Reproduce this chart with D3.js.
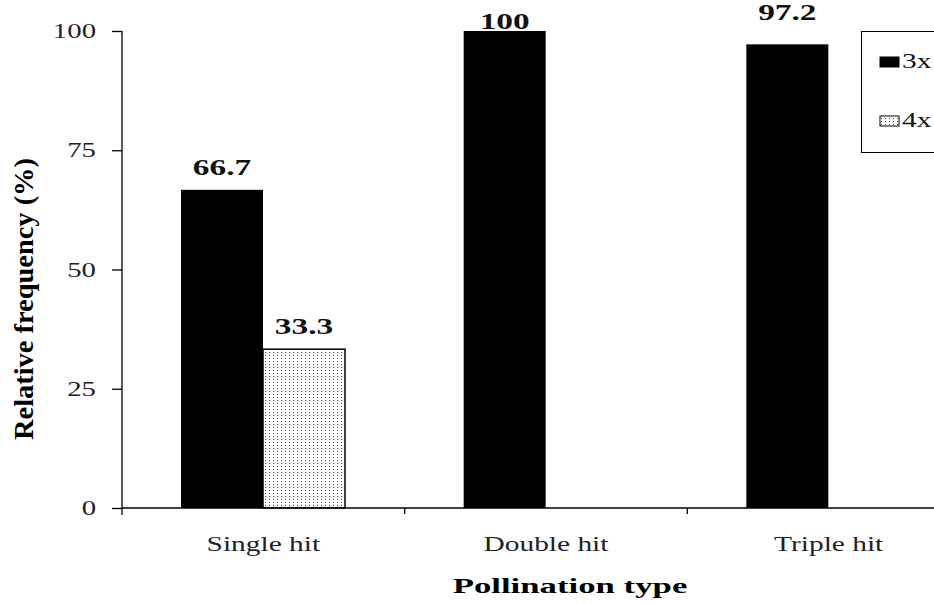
<!DOCTYPE html>
<html>
<head>
<meta charset="utf-8">
<script src="https://cdn.jsdelivr.net/npm/d3@7/dist/d3.min.js"></script>
<style>
  html, body { margin: 0; padding: 0; background: #fff; }
  svg { display: block; }
</style>
</head>
<body>
<svg id="chart" width="934" height="604"></svg>
<script>
// ---- data ----
const categories = ["Single hit", "Double hit", "Triple hit"];
const seriesNames = ["3x", "4x"];
const values3x = [66.7, 100, 97.2];
const values4x = [33.3, null, null];
const yTicks = [0, 25, 50, 75, 100];

// ---- layout ----
const FONT = "'Liberation Serif', 'DejaVu Serif', 'Times New Roman', serif";
const W = 934, H = 604;
const plotLeft = 122, plotRight = 970, plotTop = 31, plotBottom = 508;
const svg = d3.select("#chart");

function stretch(sel, k) {
  sel.each(function () {
    const L = this.getComputedTextLength();
    d3.select(this).attr("textLength", L * k).attr("lengthAdjust", "spacingAndGlyphs");
  });
}

const defs = svg.append("defs");
const pat = defs.append("pattern")
  .attr("id", "dots").attr("patternUnits", "userSpaceOnUse")
  .attr("width", 4).attr("height", 3);
pat.append("rect").attr("width", 4).attr("height", 3).attr("fill", "#fff");
pat.append("rect").attr("x", 1).attr("y", 1).attr("width", 1).attr("height", 1).attr("fill", "#444");

const x0 = d3.scaleBand().domain(categories).range([plotLeft, plotRight]).padding(0);
const x1 = d3.scaleBand().domain(seriesNames).range([59, 223]).padding(0);
const y = d3.scaleLinear().domain([0, 100]).range([plotBottom, plotTop]);

const fills = { "3x": "#000", "4x": "url(#dots)" };

const rows = categories.map((c, i) => ({
  cat: c,
  vals: [{ s: "3x", v: values3x[i] }, { s: "4x", v: values4x[i] }]
}));

// bars
const g = svg.append("g");
rows.forEach(r => {
  r.vals.filter(d => d.v != null).forEach(d => {
    g.append("rect")
      .attr("x", x0(r.cat) + x1(d.s))
      .attr("y", y(d.v))
      .attr("width", x1.bandwidth())
      .attr("height", y(0) - y(d.v))
      .attr("fill", fills[d.s])
      .attr("stroke", d.s === "4x" ? "#000" : "none")
      .attr("stroke-width", 1.5);
  });
});

// value labels (offsets above bar top, as placed in the original)
const labelDy = { "Single hit|3x": 15, "Single hit|4x": 15, "Double hit|3x": 2, "Triple hit|3x": 24 };
rows.forEach(r => {
  r.vals.filter(d => d.v != null).forEach(d => {
    svg.append("text")
      .attr("x", x0(r.cat) + x1(d.s) + x1.bandwidth() / 2)
      .attr("y", y(d.v) - labelDy[r.cat + "|" + d.s])
      .attr("text-anchor", "middle")
      .attr("font-family", FONT)
      .attr("font-size", 23).attr("font-weight", "bold")
      .attr("fill", "#111")
      .text(d.v)
      .call(stretch, 1.45);
  });
});

// y axis
const yAxis = svg.append("g").attr("transform", `translate(${plotLeft},0)`)
  .call(d3.axisLeft(y).tickValues(yTicks).tickSize(10).tickSizeOuter(0).tickPadding(16));
yAxis.attr("font-family", FONT);
yAxis.select(".domain").remove();
yAxis.append("line").attr("x1", 0).attr("x2", 0).attr("y1", plotTop).attr("y2", plotBottom + 7)
  .attr("stroke", "#000").attr("stroke-width", 1.3);
yAxis.selectAll(".tick line").attr("stroke", "#000").attr("stroke-width", 1.3);
yAxis.selectAll(".tick text").attr("font-size", 21).attr("fill", "#222")
  .attr("font-family", FONT).call(stretch, 1.37);

// x axis
const xAxis = svg.append("g").attr("transform", `translate(0,${plotBottom})`);
xAxis.append("line").attr("x1", plotLeft).attr("x2", W).attr("y1", 0).attr("y2", 0)
  .attr("stroke", "#000").attr("stroke-width", 1.3);
categories.slice(1).forEach(c => {
  xAxis.append("line").attr("x1", x0(c)).attr("x2", x0(c)).attr("y1", 0).attr("y2", 6)
    .attr("stroke", "#000").attr("stroke-width", 1.3);
});
categories.forEach(c => {
  xAxis.append("text")
    .attr("x", x0(c) + x0.bandwidth() / 2).attr("y", 43)
    .attr("text-anchor", "middle").attr("font-size", 20).attr("fill", "#222")
    .attr("font-family", FONT)
    .text(c)
    .call(stretch, 1.47);
});

// axis titles
svg.append("text").attr("x", 570).attr("y", 593).attr("text-anchor", "middle")
  .attr("font-family", FONT)
  .attr("font-size", 22).attr("font-weight", "bold")
  .text("Pollination type")
  .call(stretch, 1.58);
svg.append("text").attr("transform", "translate(33,299) rotate(-90)")
  .attr("text-anchor", "middle").attr("font-family", FONT)
  .attr("font-size", 27).attr("font-weight", "bold")
  .text("Relative frequency (%)")
  .attr("textLength", 282).attr("lengthAdjust", "spacingAndGlyphs");

// legend
const lg = svg.append("g");
lg.append("rect").attr("x", 861.5).attr("y", 31.5).attr("width", 120).attr("height", 121)
  .attr("fill", "#fff").attr("stroke", "#000").attr("stroke-width", 1);
seriesNames.forEach((s, i) => {
  const yy = 57 + i * 59;
  lg.append("rect").attr("x", 880).attr("y", yy).attr("width", 19).attr("height", 10)
    .attr("fill", fills[s]).attr("stroke", "#000").attr("stroke-width", 1);
  lg.append("text").attr("x", 902).attr("y", yy + 11).attr("font-size", 21).attr("fill", "#111")
    .attr("font-family", FONT)
    .text(s)
    .call(stretch, 1.4);
});
</script>
</body>
</html>
